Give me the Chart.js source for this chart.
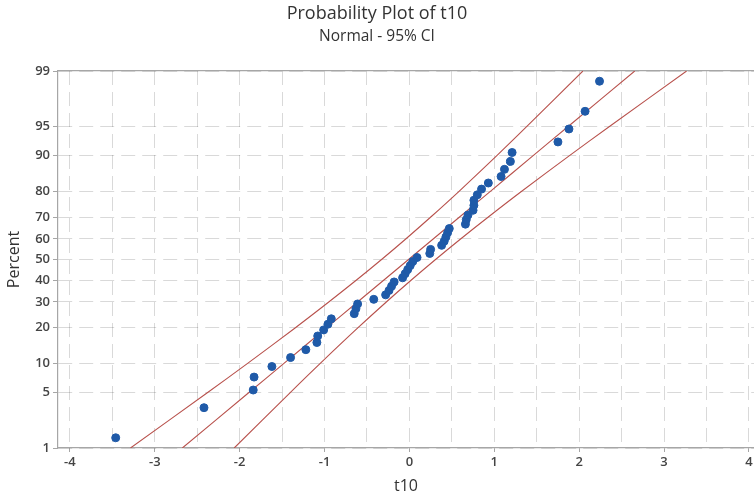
<!DOCTYPE html>
<html>
<head>
<meta charset="utf-8">
<title>Probability Plot of t10</title>
<script src="https://cdn.jsdelivr.net/npm/chart.js@4/dist/chart.umd.min.js"></script>
<style>
    html, body { margin: 0; padding: 0; background: #ffffff; }
    #wrap { width: 754px; height: 498px; }
</style>
</head>
<body>
<div id="wrap"><canvas id="chart"></canvas></div>
<script>
// t10 values (sorted) and their plotting positions in percent
const t10Values = [-3.46, -2.42, -1.84, -1.83, -1.62, -1.40, -1.22, -1.09, -1.08, -1.01,
    -0.96, -0.92, -0.65, -0.63, -0.61, -0.42, -0.28, -0.24, -0.21, -0.18,
    -0.08, -0.05, -0.02, 0.01, 0.04, 0.09, 0.24, 0.25, 0.38, 0.41,
    0.43, 0.45, 0.47, 0.66, 0.67, 0.69, 0.75, 0.76, 0.76, 0.80,
    0.85, 0.93, 1.08, 1.12, 1.19, 1.21, 1.75, 1.88, 2.07, 2.24];
const t10Percents = [1.39, 3.37, 5.36, 7.34, 9.33, 11.31, 13.29, 15.28, 17.26, 19.25,
    21.23, 23.21, 25.20, 27.18, 29.17, 31.15, 33.13, 35.12, 37.10, 39.09,
    41.07, 43.06, 45.04, 47.02, 49.01, 50.99, 52.98, 54.96, 56.94, 58.93,
    60.91, 62.90, 64.88, 66.87, 68.85, 70.83, 72.82, 74.80, 76.79, 78.77,
    80.75, 82.74, 84.72, 86.71, 88.69, 90.67, 92.66, 94.64, 96.63, 98.61];

// fitted line and 95% CI band, read at the percent levels
const bandPercents = [1, 5, 10, 20, 30, 40, 50, 60, 70, 80, 90, 95, 99];
const fitLine = [-2.675, -1.894, -1.478, -0.974, -0.611, -0.300, -0.010, 0.280, 0.591, 0.954, 1.458, 1.874, 2.655];
const lowerBand = [-3.286, -2.381, -1.906, -1.343, -0.950, -0.623, -0.328, -0.043, 0.252, 0.585, 1.030, 1.387, 2.044];
const upperBand = [-2.064, -1.407, -1.050, -0.605, -0.272, 0.023, 0.308, 0.603, 0.930, 1.323, 1.886, 2.361, 3.266];

// axis ticks
const percentTicks = [1, 5, 10, 20, 30, 40, 50, 60, 70, 80, 90, 95, 99];
const xTicks = [-4, -3.5, -3, -2.5, -2, -1.5, -1, -0.5, 0, 0.5, 1, 1.5, 2, 2.5, 3, 3.5, 4];

const textColor = '#333333';
const tickTextColor = '#444444';
const gridColor = 'rgba(0, 0, 0, 0.15)';
const axisColor = '#a6a6a6';
const pointColor = '#1f5aa8';
const bandColor = '#b8514c';

// inverse normal cdf (Acklam), used for the probability axis
function probit(p) {
    const a = [-3.969683028665376e+01, 2.209460984245205e+02, -2.759285104469687e+02, 1.383577518672690e+02, -3.066479806614716e+01, 2.506628277459239e+00];
    const b = [-5.447609879822406e+01, 1.615858368580409e+02, -1.556989798598866e+02, 6.680131188771972e+01, -1.328068155288572e+01];
    const c = [-7.784894002430293e-03, -3.223964580411365e-01, -2.400758277161838e+00, -2.549732539343734e+00, 4.374664141464968e+00, 2.938163982698783e+00];
    const d = [7.784695709041462e-03, 3.224671290700398e-01, 2.445134137142996e+00, 3.754408661907416e+00];
    const pl = 0.02425;
    let q, r;
    if (p < pl) {
        q = Math.sqrt(-2 * Math.log(p));
        return (((((c[0] * q + c[1]) * q + c[2]) * q + c[3]) * q + c[4]) * q + c[5]) / ((((d[0] * q + d[1]) * q + d[2]) * q + d[3]) * q + 1);
    }
    if (p > 1 - pl) {
        q = Math.sqrt(-2 * Math.log(1 - p));
        return -(((((c[0] * q + c[1]) * q + c[2]) * q + c[3]) * q + c[4]) * q + c[5]) / ((((d[0] * q + d[1]) * q + d[2]) * q + d[3]) * q + 1);
    }
    q = p - 0.5;
    r = q * q;
    return (((((a[0] * r + a[1]) * r + a[2]) * r + a[3]) * r + a[4]) * r + a[5]) * q / (((((b[0] * r + b[1]) * r + b[2]) * r + b[3]) * r + b[4]) * r + 1);
}

function toPoints(xs, ps) {
    return xs.map((x, i) => ({ x: x, y: probit(ps[i] / 100) }));
}

function bandDataset(xs) {
    return {
        type: 'line',
        data: toPoints(xs, bandPercents),
        borderColor: bandColor,
        borderWidth: 1.1,
        pointRadius: 0,
        tension: 0.3,
        fill: false,
        order: 2
    };
}

const ctx = document.getElementById('chart').getContext('2d');

const chart = new Chart(ctx, {
    type: 'scatter',
    data: {
        datasets: [
            {
                data: toPoints(t10Values, t10Percents),
                backgroundColor: pointColor,
                borderColor: pointColor,
                pointRadius: 4,
                order: 1
            },
            bandDataset(lowerBand),
            bandDataset(fitLine),
            bandDataset(upperBand)
        ]
    },
    options: {
        responsive: true,
        maintainAspectRatio: false,
        animation: false,
        layout: { padding: 0, autoPadding: false },
        plugins: {
            legend: { display: false },
            tooltip: { enabled: false },
            title: {
                display: true,
                text: 'Probability Plot of t10',
                color: textColor,
                font: { family: 'Open Sans', size: 18, weight: 'normal' },
                padding: { top: 3, bottom: 3 }
            },
            subtitle: {
                display: true,
                text: 'Normal - 95% CI',
                color: textColor,
                font: { family: 'Open Sans', size: 15.5, weight: 'normal' },
                padding: { top: 0, bottom: 24.8 }
            }
        },
        scales: {
            x: {
                type: 'linear',
                min: -4.14,
                max: 4.06,
                afterBuildTicks: axis => {
                    axis.ticks = xTicks.map(v => ({ value: v }));
                },
                afterFit: axis => {
                    axis.height = 50;
                    axis.paddingLeft = 0;
                    axis.paddingRight = 0;
                },
                ticks: {
                    autoSkip: false,
                    maxRotation: 0,
                    padding: 2,
                    color: tickTextColor,
                    font: { family: 'Open Sans', size: 13, weight: '600' },
                    callback: value => (Number.isInteger(value) ? String(value) : '')
                },
                grid: {
                    color: gridColor,
                    lineWidth: 1,
                    tickLength: 4,
                    tickColor: c => (c.tick && Number.isInteger(c.tick.value) ? axisColor : 'rgba(0,0,0,0)'),
                    tickBorderDash: []
                },
                border: { color: axisColor, width: 1.2, dash: [14, 7] },
                title: {
                    display: true,
                    text: 't10',
                    color: textColor,
                    font: { family: 'Open Sans', size: 16 },
                    padding: { top: 0, bottom: 2 }
                }
            },
            xTop: {
                type: 'linear',
                position: 'top',
                display: true,
                afterFit: axis => {
                    axis.height = 0;
                },
                ticks: { display: false },
                grid: { display: false, drawTicks: false },
                border: { color: axisColor, width: 1.2 }
            },
            y: {
                type: 'linear',
                min: probit(0.01),
                max: probit(0.99),
                afterBuildTicks: axis => {
                    axis.ticks = percentTicks.map(p => ({ value: probit(p / 100) }));
                },
                afterFit: axis => {
                    axis.width = 58;
                },
                ticks: {
                    autoSkip: false,
                    padding: 3,
                    color: tickTextColor,
                    font: { family: 'Open Sans', size: 13, weight: '600' },
                    callback: (value, index) => String(percentTicks[index])
                },
                grid: {
                    color: gridColor,
                    lineWidth: 1,
                    tickLength: 5,
                    tickColor: axisColor,
                    tickBorderDash: []
                },
                border: { color: axisColor, width: 1.2, dash: [14, 7] },
                title: {
                    display: true,
                    text: 'Percent',
                    color: textColor,
                    font: { family: 'Open Sans', size: 16 },
                    padding: { top: 5, bottom: 0 }
                }
            }
        }
    }
});
</script>
</body>
</html>
